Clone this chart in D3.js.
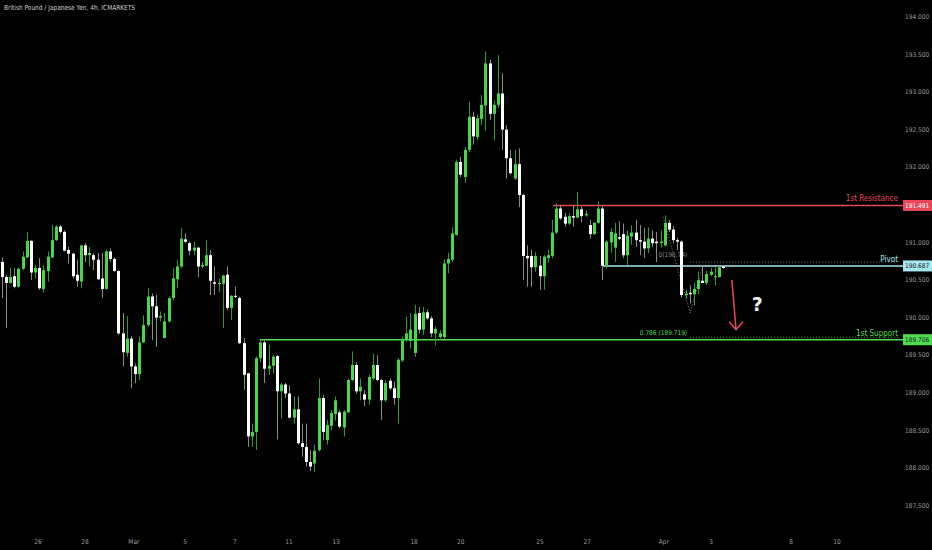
<!DOCTYPE html>
<html><head><meta charset="utf-8">
<script src="https://cdn.jsdelivr.net/npm/d3@7/dist/d3.min.js"></script>
<style>body{margin:0;background:#000;} svg{display:block;}</style>
</head><body><svg id="c" width="932" height="550"></svg>
<script>
const title = "British Pound / Japanese Yen, 4h, ICMARKETS";
const opens = [190.74,190.54,190.46,190.55,190.41,190.65,190.80,191.02,190.60,190.66,190.38,190.62,190.80,191.03,191.21,191.14,190.90,190.85,190.57,190.48,190.96,190.83,190.83,190.77,190.52,190.38,190.88,190.78,190.62,189.79,
189.53,189.72,189.35,189.25,189.67,189.90,190.28,190.15,190.00,189.73,189.95,190.26,190.51,190.68,191.04,190.99,190.89,190.93,190.68,190.69,190.83,190.47,190.45,190.45,190.57,190.13,190.29,190.26,189.66,189.26,
188.42,188.48,189.46,189.67,189.32,189.36,189.49,189.02,189.11,188.99,188.67,188.78,188.33,188.28,188.08,188.06,188.24,188.93,188.37,188.56,188.72,188.74,188.54,188.74,189.17,189.37,189.02,188.98,188.91,189.19,
189.37,189.17,188.90,189.16,189.06,188.93,189.43,189.70,189.69,189.53,190.06,189.84,190.07,189.99,189.79,189.74,189.74,190.72,190.77,191.10,192.07,191.87,192.23,192.67,192.40,192.64,192.82,193.38,192.71,192.83,
192.98,192.50,192.12,191.85,192.04,191.63,190.82,190.82,190.67,190.69,190.55,190.79,190.82,191.13,191.45,191.34,191.25,191.35,191.33,191.44,191.36,191.23,191.11,191.26,191.45,190.69,191.00,190.93,191.07,191.11,
190.83,191.08,191.13,191.03,191.01,190.92,191.05,191.01,190.99,190.96,191.26,191.17,191.03,191.01,190.30,190.33,190.31,190.38,190.49,190.46,190.57,190.54,190.54,190.68];
const highs = [190.80,190.57,190.66,190.66,190.66,190.88,191.14,191.03,190.70,190.79,190.70,190.88,191.23,191.23,191.23,191.16,190.94,190.86,190.77,190.97,190.99,190.94,190.86,190.86,190.86,190.90,190.92,190.80,190.63,190.06,
190.02,189.75,189.39,189.75,190.03,190.39,190.32,190.30,190.08,190.06,190.28,190.66,190.77,191.19,191.12,191.01,191.01,190.94,190.74,191.03,190.90,190.68,190.52,190.57,190.68,190.30,190.41,190.28,189.73,189.26,
188.59,189.48,189.70,189.70,189.64,189.50,189.50,189.13,189.13,189.10,188.95,188.95,188.59,188.59,188.24,188.31,189.19,188.97,188.64,188.77,188.95,188.77,188.77,189.19,189.55,189.41,189.19,189.04,189.24,189.52,
189.50,189.19,189.17,189.19,189.15,189.46,189.75,190.01,190.06,190.17,190.14,190.14,190.11,190.02,189.88,189.83,190.77,190.86,191.20,192.10,192.14,192.27,192.87,192.74,192.70,192.96,193.54,193.43,192.89,193.49,
193.25,192.56,192.23,192.23,192.25,191.65,190.96,190.90,190.87,190.82,190.83,190.90,191.30,191.52,191.50,191.39,191.39,191.50,191.67,191.48,191.43,191.30,191.27,191.54,191.48,191.03,191.19,191.26,191.28,191.25,
191.16,191.23,191.30,191.23,191.19,191.20,191.16,191.14,191.16,191.36,191.30,191.22,191.06,191.03,190.37,190.43,190.46,190.61,190.70,190.62,190.66,190.67,190.68,190.69];
const lows = [190.26,189.86,190.45,190.39,190.40,190.63,190.79,190.50,190.52,190.37,190.33,190.48,190.79,191.02,191.12,190.88,190.72,190.52,190.41,190.39,190.74,190.68,190.63,190.50,190.26,190.37,190.74,190.61,189.77,189.35,
189.48,189.06,189.13,189.17,189.66,189.88,189.70,189.61,189.95,189.72,189.93,190.23,190.39,190.66,190.99,190.83,190.83,190.54,190.66,190.68,190.30,190.30,190.34,189.86,190.10,189.97,190.26,189.65,189.04,188.28,
188.28,188.24,189.41,189.13,189.24,189.26,188.38,188.66,188.93,188.66,188.59,188.31,188.15,188.02,187.96,187.95,188.22,188.37,188.31,188.50,188.63,188.53,188.42,188.73,189.15,188.99,188.90,188.82,188.84,189.17,
189.15,188.64,188.88,189.04,188.84,188.59,189.41,189.68,189.59,189.48,189.79,189.77,189.97,189.74,189.63,189.72,189.72,190.59,190.74,191.09,191.87,191.79,192.20,192.30,192.36,192.56,192.49,192.63,192.36,192.79,
192.23,191.85,191.90,191.83,191.47,190.50,190.41,190.41,190.61,190.37,190.37,190.73,190.79,191.11,191.30,191.21,191.23,191.21,191.32,191.27,191.34,191.05,191.10,191.25,190.50,190.65,190.86,190.74,191.03,190.79,
190.70,190.97,190.94,190.83,190.79,190.86,190.94,190.74,190.93,190.94,191.14,190.99,190.90,190.27,190.25,190.19,190.16,190.31,190.46,190.43,190.55,190.43,190.53,190.65];
const closes = [190.54,190.46,190.54,190.41,190.65,190.81,191.02,190.60,190.66,190.39,190.63,190.81,191.03,191.21,191.14,190.89,190.85,190.55,190.49,190.96,190.83,190.86,190.77,190.51,190.38,190.88,190.78,190.62,189.79,189.54,
189.72,189.35,189.25,189.67,189.90,190.28,190.15,190.00,190.02,189.95,190.26,190.52,190.68,191.05,191.01,190.89,190.93,190.68,190.70,190.83,190.49,190.45,190.46,190.56,190.13,190.29,190.28,189.66,189.24,188.42,
188.48,189.46,189.67,189.32,189.36,189.48,189.02,189.11,188.99,188.67,188.78,188.33,188.28,188.08,188.02,188.23,188.93,188.48,188.57,188.73,188.90,188.55,188.75,189.17,189.37,189.02,189.08,188.91,189.21,189.37,
189.17,188.90,189.13,189.06,188.93,189.44,189.70,189.79,189.84,190.05,189.84,190.07,189.99,189.79,189.85,189.79,190.72,190.78,191.12,192.07,191.90,192.23,192.67,192.41,192.65,192.83,193.38,192.71,192.83,192.98,
192.50,192.12,191.92,192.04,191.63,190.82,190.79,190.67,190.82,190.55,190.81,190.83,191.13,191.45,191.32,191.25,191.35,191.33,191.44,191.35,191.38,191.11,191.26,191.45,190.69,191.01,191.14,191.12,191.05,190.83,
191.09,191.13,191.03,191.01,190.92,191.05,190.99,190.99,191.01,191.26,191.17,191.03,191.01,190.30,190.32,190.31,190.38,190.50,190.46,190.58,190.61,190.55,190.67,190.66];

const xTickLabels = ["26","28","Mar","5","7","11","13","18","20","25","27","Apr","3","8","10"];
const xTickIdx = [8.7,20.0,31.7,44.0,55.9,68.9,80.2,98.9,110.1,129.1,140.4,158.8,170.1,189.3,200.3];
const yTicks = [194,193.5,193,192.5,192,191,190.5,190,189.5,189,188.5,188,187.5];

const levelNames = ["1st Resistance","Pivot","1st Support"];
const levelValues = [191.491,190.687,189.706];
const levelStartIdx = [132.2,144.2,61.9];
const levelColors = ["#e8475a","#a6e8f0","#4fdc4f"];
const levelTextColors = ["#fff","#1a1a1a","#1a1a1a"];

const fibLabels = ["0(190.74)","0.786 (189.719)"];
const fibValues = [190.74,189.719];
const fibStartIdx = 165.1;
const fibPathIdx = [158.6,165.1,168.2];
const fibPathPrice = [191.34,190.06,190.70];

const arrowIdx = [175.1,176.1];
const arrowPrice = [190.50,189.84];
const questionIdx = 181.2, questionPrice = 190.18;

const svg = d3.select("#c");
const W = 932, H = 550;
svg.append("rect").attr("width",W).attr("height",H).attr("fill","#000");

const x = d3.scaleLinear().domain([0,200]).range([1.7,1.7+200*4.17]);
const y = d3.scaleLinear().domain([187.5,194]).range([505.6,16.8]);
const font = "'DejaVu Sans Condensed','Liberation Sans Narrow',sans-serif";

const candles = opens.map((o,i)=>({i,o,h:highs[i],l:lows[i],c:closes[i]}));
const GREEN = "#46d846", WHITE = "#ffffff";

const lv = svg.append("g");
levelValues.forEach((v,k)=>{
  lv.append("line").attr("x1",x(levelStartIdx[k])).attr("x2",903)
    .attr("y1",y(v)).attr("y2",y(v)).attr("stroke",levelColors[k]).attr("stroke-width",1.6);
});

const fib = svg.append("g");
fibValues.forEach((v,k)=>{
  fib.append("line").attr("x1",x(fibStartIdx)).attr("x2",900)
    .attr("y1",y(v)-(k==1?1.5:0)).attr("y2",y(v)-(k==1?1.5:0))
    .attr("stroke",k==0?"#777":"#3fae3f").attr("stroke-width",1).attr("stroke-dasharray","1,2");
});
fib.append("path").attr("d",d3.line().x(d=>x(d[0])).y(d=>y(d[1]))(fibPathIdx.map((d,k)=>[d,fibPathPrice[k]])))
  .attr("fill","none").attr("stroke","#888").attr("stroke-width",1).attr("stroke-dasharray","1,2");
fib.append("text").attr("x",x(fibStartIdx)-3).attr("y",y(fibValues[0])-5).attr("text-anchor","end")
  .attr("font-family",font).attr("font-size",6.5).attr("fill","#8a8a8a").text(fibLabels[0]);
fib.append("text").attr("x",x(fibStartIdx)-3).attr("y",y(fibValues[1])-3.5).attr("text-anchor","end")
  .attr("font-family",font).attr("font-size",6.5).attr("fill","#4fdc4f").text(fibLabels[1]);

const cg = svg.append("g");
cg.selectAll("line.w").data(candles).join("line").attr("class","w")
  .attr("x1",d=>Math.round(x(d.i))+0.5).attr("x2",d=>Math.round(x(d.i))+0.5)
  .attr("y1",d=>y(d.h)).attr("y2",d=>y(d.l))
  .attr("stroke",d=>d.c>=d.o?"#2f9a2f":"#8a8a8a").attr("stroke-width",1);
cg.selectAll("rect.b").data(candles).join("rect").attr("class","b")
  .attr("x",d=>Math.round(x(d.i))-1).attr("width",3)
  .attr("y",d=>y(Math.max(d.o,d.c)))
  .attr("height",d=>Math.max(1,Math.abs(y(d.o)-y(d.c))))
  .attr("fill",d=>d.c>=d.o?GREEN:WHITE);

levelValues.forEach((v,k)=>{
  lv.append("text").attr("x",898).attr("y",y(v)-4).attr("text-anchor","end")
    .attr("font-family",font).attr("font-size",8).attr("fill",levelColors[k]).text(levelNames[k]);
});

const ax = svg.append("g");
yTicks.forEach(t=>{
  ax.append("text").attr("x",905).attr("y",y(t)).attr("dy","0.35em")
    .attr("font-family",font).attr("font-size",6.5).attr("fill","#9a9a9a").text(t.toFixed(3));
});
levelValues.forEach((v,k)=>{
  ax.append("rect").attr("x",903).attr("y",y(v)-5.5).attr("width",29).attr("height",11).attr("fill",levelColors[k]);
  ax.append("text").attr("x",905).attr("y",y(v)).attr("dy","0.35em")
    .attr("font-family",font).attr("font-size",6.5).attr("fill",levelTextColors[k]).text(v.toFixed(3));
});

xTickLabels.forEach((t,k)=>{
  svg.append("text").attr("x",x(xTickIdx[k])).attr("y",542).attr("dy","0.35em").attr("text-anchor","middle")
    .attr("font-family",font).attr("font-size",6.5).attr("fill","#9a9a9a").text(t);
});

const ar = svg.append("g").attr("stroke","#e8475a").attr("stroke-width",1.5).attr("fill","none");
const ax0 = x(arrowIdx[0]), ay0 = y(arrowPrice[0]), ax1 = x(arrowIdx[1]), ay1 = y(arrowPrice[1]);
ar.append("line").attr("x1",ax0).attr("y1",ay0).attr("x2",ax1).attr("y2",ay1);
ar.append("path").attr("d",`M${ax1-7},${ay1-8}L${ax1},${ay1}L${ax1+7},${ay1-8}`);
svg.append("text").attr("x",x(questionIdx)).attr("y",y(questionPrice)).attr("dy","0.35em").attr("text-anchor","middle")
  .attr("font-family","'DejaVu Sans',sans-serif").attr("font-weight","bold").attr("font-size",19).attr("fill","#eeeeee").text("?");

svg.append("text").attr("x",4).attr("y",8).attr("dy","0.35em").attr("font-family",font)
  .attr("font-size",7).attr("textLength",131).attr("lengthAdjust","spacingAndGlyphs")
  .attr("fill","#cfcfcf").text(title);
</script></body></html>
